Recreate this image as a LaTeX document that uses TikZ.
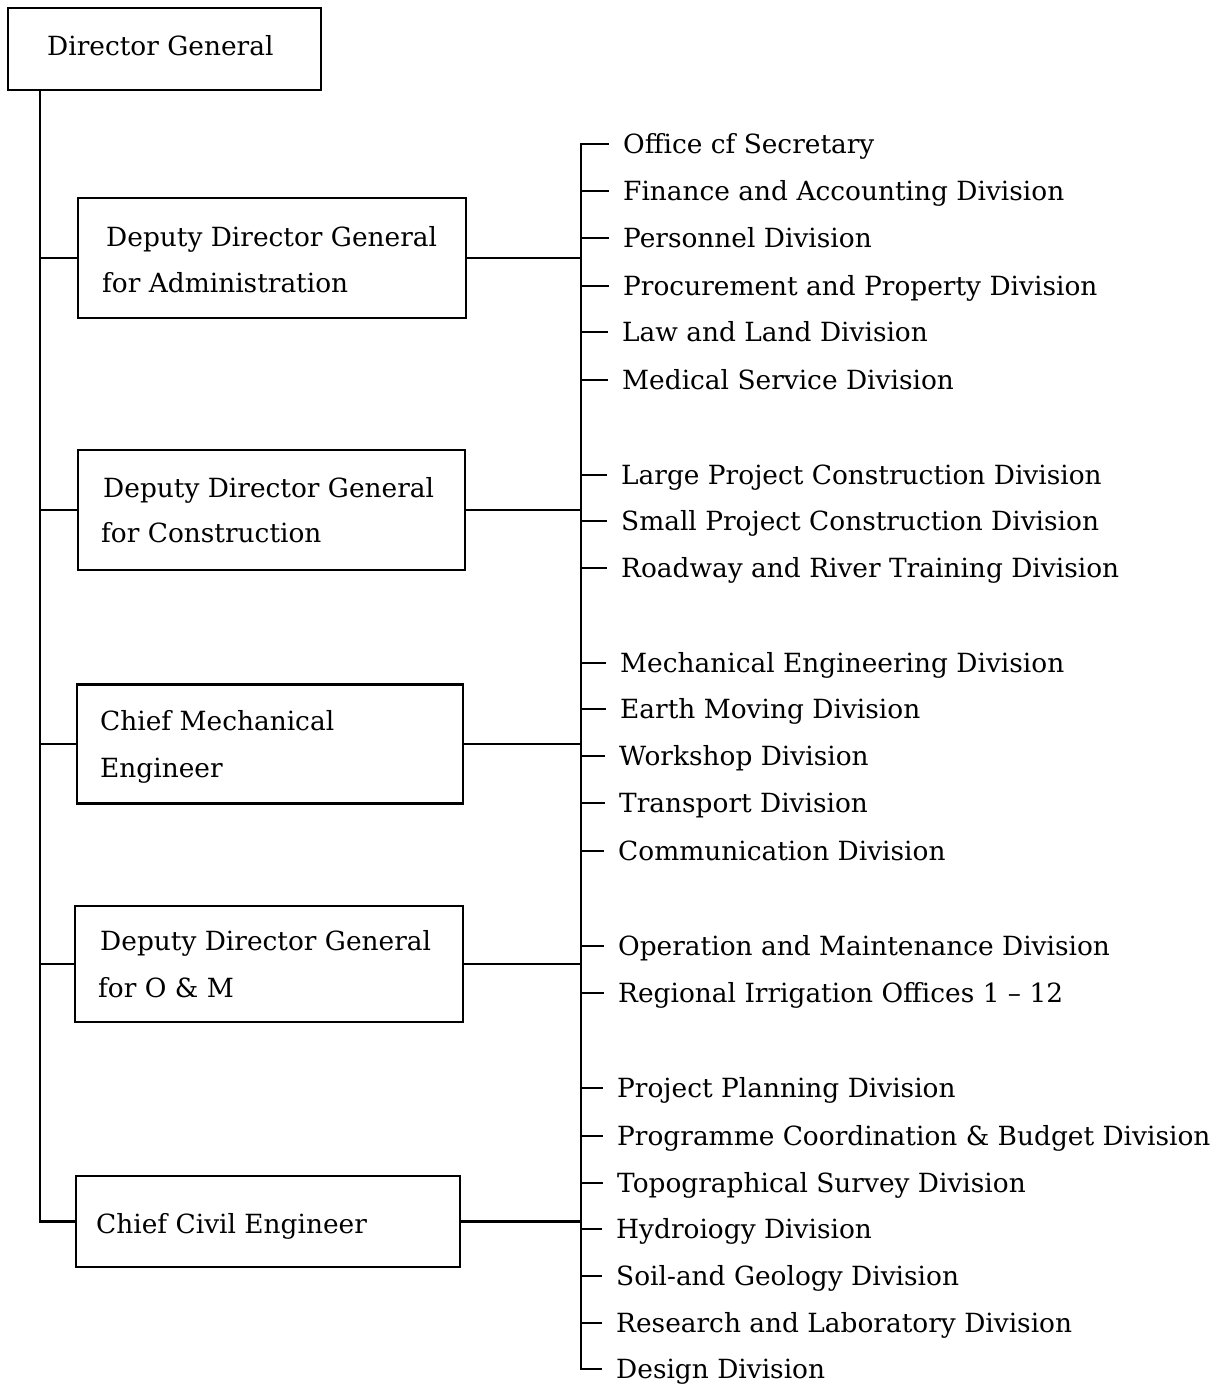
\documentclass[tikz,border=0pt]{standalone}
\usepackage{fontspec}
\setmainfont{DejaVu Serif}
\begin{document}
\begin{tikzpicture}[x=1pt,y=-1pt,
  line width=2.4pt, line cap=rect,
  box/.style={draw, line width=2.4pt, inner sep=0pt},
  lbl/.style={anchor=base west, inner sep=0pt,
    font=\fontsize{26.4}{30}\selectfont},
  item/.style={anchor=base west, inner sep=0pt,
    font=\fontsize{26.4}{30}\selectfont}]
\useasboundingbox (0,0) rectangle (1216,1385);
% boxes
\node[box, minimum width=313, minimum height=82] (dg) at (164.5,49) {};
\node[lbl] (dgt) at (46,55.6) {Director General};
\node[box, minimum width=388, minimum height=120] (adm) at (272,258) {};
\node[lbl] (adma) at (105,246.6) {Deputy Director General};
\node[lbl] (admb) at (101,292.6) {for Administration};
\node[box, minimum width=387, minimum height=120] (con) at (271.5,510) {};
\node[lbl] (cona) at (102,497.6) {Deputy Director General};
\node[lbl] (conb) at (100,542.6) {for Construction};
\node[box, minimum width=386, minimum height=119] (cme) at (270,744) {};
\node[lbl] (cmea) at (99,730.6) {Chief Mechanical};
\node[lbl] (cmeb) at (99,777.6) {Engineer};
\node[box, minimum width=388, minimum height=116] (om) at (269,964) {};
\node[lbl] (oma) at (99,950.6) {Deputy Director General};
\node[lbl] (omb) at (97,997.6) {for O \& M};
\node[box, minimum width=384, minimum height=91] (cce) at (268,1221.5) {};
\node[lbl] (ccet) at (95,1233.6) {Chief Civil Engineer};
% trunk
\coordinate (trunktop) at (40,90);
\draw (trunktop) |- (cce.west);
\foreach \b in {adm,con,cme,om}{\draw (trunktop |- \b.west) -- (\b.west);}
% items (base = visual centre + 9.6)
\node[item] (i1) at (622,153.6) {Office cf Secretary};
\node[item] (i2) at (622,200.6) {Finance and Accounting Division};
\node[item] (i3) at (622,247.6) {Personnel Division};
\node[item] (i4) at (622,295.6) {Procurement and Property Division};
\node[item] (i5) at (621,341.6) {Law and Land Division};
\node[item] (i6) at (621,389.6) {Medical Service Division};
\node[item] (i7) at (620,484.6) {Large Project Construction Division};
\node[item] (i8) at (620,530.6) {Small Project Construction Division};
\node[item] (i9) at (620,577.6) {Roadway and River Training Division};
\node[item] (i10) at (619,672.6) {Mechanical Engineering Division};
\node[item] (i11) at (619,718.6) {Earth Moving Division};
\node[item] (i12) at (618,765.6) {Workshop Division};
\node[item] (i13) at (618,812.6) {Transport Division};
\node[item] (i14) at (617,860.6) {Communication Division};
\node[item] (i15) at (617,955.6) {Operation and Maintenance Division};
\node[item] (i16) at (617,1002.6) {Regional Irrigation Offices 1 -- 12};
\node[item] (i17) at (616,1097.6) {Project Planning Division};
\node[item] (i18) at (616,1145.6) {Programme Coordination \& Budget Division};
\node[item] (i19) at (616,1192.6) {Topographical Survey Division};
\node[item] (i20) at (615,1238.6) {Hydroiogy Division};
\node[item] (i21) at (615,1285.6) {Soil-and Geology Division};
\node[item] (i22) at (615,1332.6) {Research and Laboratory Division};
\node[item] (i23) at (615,1378.6) {Design Division};
% tick ends (at the visual centre of each item)
\foreach \k in {1,...,23}{\coordinate (t\k) at ([xshift=-14pt,yshift=9.6pt]i\k.base west);}
% bus
\coordinate (bustop) at (581,144);
\coordinate (busbot) at (581,1369);
\draw (t1) -- (bustop |- t1) -- (bustop |- t23) -- (t23);
\foreach \k in {2,...,22}{\draw (bustop |- t\k) -- (t\k);}
\foreach \b in {adm,con,cme,om,cce}{\draw (\b.east) -- (\b.east -| bustop);}
\end{tikzpicture}
\end{document}
